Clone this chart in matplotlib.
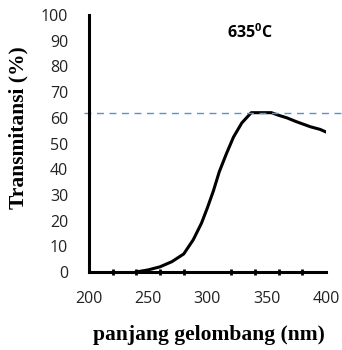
import matplotlib
matplotlib.use("Agg")
import matplotlib.pyplot as plt

# wavelength (nm) and transmittance (%)
wavelength = [240, 250, 260, 270, 280, 288, 295, 300, 305, 310, 316, 322, 329, 337, 345, 354, 360, 367, 375, 387, 395, 400]
transmit = [0, 0.8, 2, 4, 7, 12.5, 19, 25, 31.5, 39, 46, 52.5, 58, 62, 62, 62, 61, 60, 58.5, 56.5, 55.5, 54.5]
ref_level = 62
label_temp = "635$^\\mathregular{0}$C"

fig = plt.figure(figsize=(3.42, 3.5), dpi=100)
ax = fig.add_axes([0.26, 0.223, 0.693, 0.734])

ax.plot(wavelength, transmit, color="black", lw=2.2)
ax.plot([-0.02, 1.1], [ref_level, ref_level], color="#5b8fd9", lw=1, ls=(0, (5, 4)),
        transform=ax.get_yaxis_transform(), clip_on=False)

ax.set_xlim(200, 400)
ax.set_ylim(0, 100)
ax.set_xticks(range(200, 401, 50))
ax.set_xticks(range(200, 401, 20), minor=True)
ax.set_yticks(range(0, 101, 10))
for s in ["top", "right"]:
    ax.spines[s].set_visible(False)
for s in ["left", "bottom"]:
    ax.spines[s].set_linewidth(2.2)
ax.tick_params(axis="y", length=0, pad=15, labelsize=11.5)
ax.tick_params(axis="x", which="major", length=0, pad=14, labelsize=11.5)
ax.tick_params(axis="x", which="minor", direction="inout", length=5, width=2)
for t in ax.get_xticklabels() + ax.get_yticklabels():
    t.set_fontfamily("Open Sans")
    t.set_color("#222222")

fig.text(209 / 342, 1 - 335 / 350, "panjang gelombang (nm)", fontfamily="Liberation Serif",
         fontweight="bold", fontsize=15.5, ha="center", va="center")
fig.text(18 / 342, 1 - 128 / 350, "Transmitansi (%)", fontfamily="Liberation Serif",
         fontweight="bold", fontsize=15.5, ha="center", va="center", rotation=90)
ax.text(336, 93, label_temp, fontfamily="Open Sans", fontweight="bold", fontsize=11.5,
        ha="center", va="center")

fig.savefig("out.png", dpi=100)
